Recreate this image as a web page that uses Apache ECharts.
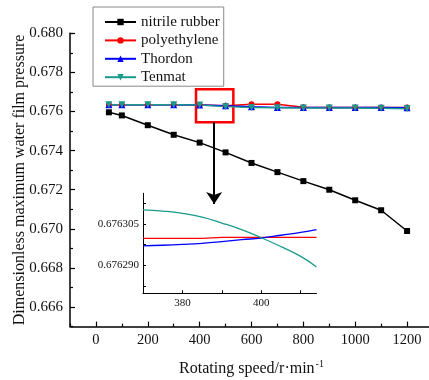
<!DOCTYPE html>
<html>
<head>
<meta charset="utf-8">
<script src="https://cdn.jsdelivr.net/npm/echarts@6/dist/echarts.min.js"></script>
<style>html,body{margin:0;padding:0;background:#fff}#c{width:429px;height:380px}</style>
</head>
<body>
<div id="c"></div>
<script>
// ---- main chart data ----
const speeds = [50, 100, 200, 300, 400, 500, 600, 700, 800, 900, 1000, 1100, 1200];
const nitrileRubber = [0.67596, 0.67580, 0.67530, 0.67481, 0.67441, 0.67391, 0.67337, 0.67290, 0.67244, 0.67200, 0.67146, 0.67095, 0.66989];
const polyethylene  = [0.67634, 0.67634, 0.67634, 0.67634, 0.67633, 0.67630, 0.67637, 0.67637, 0.67622, 0.67621, 0.67621, 0.67620, 0.67620];
const thordon       = [0.67634, 0.67634, 0.67634, 0.67634, 0.67633, 0.67630, 0.67624, 0.67621, 0.67620, 0.67620, 0.67620, 0.67620, 0.67619];
const tenmat        = [0.67634, 0.67634, 0.67634, 0.67634, 0.67633, 0.67625, 0.67620, 0.67619, 0.67618, 0.67618, 0.67618, 0.67617, 0.67614];
const seriesNames = ['nitrile rubber', 'polyethylene', 'Thordon', 'Tenmat'];
const xTickLabels = [0, 200, 400, 600, 800, 1000, 1200];
const yTickLabels = [0.666, 0.668, 0.670, 0.672, 0.674, 0.676, 0.678, 0.680];

// ---- inset (zoomed) data ----
const insetSpeeds = [370, 375, 380, 385, 390, 395, 400, 405, 410, 414];
const insetPolyethylene = [0.6762998, 0.6762998, 0.6762998, 0.6762998, 0.6763001, 0.6763001, 0.6763001, 0.6763001, 0.6763001, 0.6763001];
const insetThordon = [0.6762971, 0.6762973, 0.6762976, 0.6762980, 0.6762986, 0.6762993, 0.6762999, 0.6763009, 0.6763019, 0.6763029];
const insetTenmat  = [0.6763100, 0.6763096, 0.6763088, 0.6763074, 0.6763053, 0.6763029, 0.6763000, 0.6762968, 0.6762933, 0.6762895];
const insetXLabels = [380, 400];
const insetXTicks = [380, 390, 400, 410];
const insetYLabels = [0.676290, 0.676305];
const insetYTicks = [0.6762825, 0.676290, 0.6762975, 0.676305, 0.6763125];

// ---- annotation (zoom box and arrow) in data units ----
const zoomBoxX = [386, 530];
const zoomBoxY = [0.675448, 0.677136];
const arrowX = 456;
const arrowY = [0.675448, 0.671269];

const colors = ['#000000', '#FF0000', '#0000FF', '#1A9A8C'];
const pair = (xs, ys) => xs.map((x, i) => [x, ys[i]]);
const font = 'Liberation Serif';
const clear = 'rgba(0,0,0,0)';
const mainRect = {left: 70, top: 33.3, width: 363, height: 293.3, outerBoundsMode: 'none', containLabel: false};

const chart = echarts.init(document.getElementById('c'), null, {renderer: 'canvas'});
const option = {
  animation: false,
  textStyle: {fontFamily: font},
  legend: {
    data: seriesNames, orient: 'vertical', left: 93, top: 7,
    padding: [7, 4, 1, 11], itemGap: 2.4, itemWidth: 31, itemHeight: 8,
    borderColor: '#888', borderWidth: 1, backgroundColor: '#fff',
    textStyle: {fontFamily: font, fontSize: 15, lineHeight: 16, color: '#111'}
  },
  grid: [
    Object.assign({}, mainRect),
    {left: 143, top: 193.3, width: 173.5, height: 100, outerBoundsMode: 'none', containLabel: false},
    Object.assign({}, mainRect)   // same rect, carries the minor ticks only
  ],
  xAxis: [
    {type: 'value', gridIndex: 0, min: -100, max: 1300, position: 'bottom',
     name: 'Rotating speed/r·min{s|-1}', nameLocation: 'middle', nameGap: 33,
     nameTextStyle: {fontFamily: font, fontSize: 16, color: '#111',
       rich: {s: {fontFamily: font, fontSize: 10, verticalAlign: 'top', padding: [0,0,8,1], color: '#111'}}},
     axisLine: {onZero: false, lineStyle: {color: '#000', width: 1.5}},
     axisTick: {inside: true, length: 5, customValues: xTickLabels, lineStyle: {color: '#000', width: 1.2}},
     axisLabel: {customValues: xTickLabels, fontFamily: font, fontSize: 14.5, color: '#111', margin: 6,
       formatter: v => String(v)},
     splitLine: {show: false}},
    {type: 'value', gridIndex: 1, min: 370, max: 414, position: 'bottom',
     axisLine: {onZero: false, lineStyle: {color: '#000', width: 1}},
     axisTick: {inside: true, length: 3, customValues: insetXTicks, lineStyle: {color: '#000'}},
     axisLabel: {customValues: insetXLabels, fontFamily: font, fontSize: 11, color: '#111', margin: 4},
     splitLine: {show: false}},
    {type: 'value', gridIndex: 2, min: -100, max: 1300, interval: 200, position: 'bottom',
     axisLine: {show: true, onZero: false, lineStyle: {color: clear}},
     axisTick: {show: true, inside: true, length: 3, lineStyle: {color: '#000', width: 1.2}},
     axisLabel: {show: false}, splitLine: {show: false}}
  ],
  yAxis: [
    {type: 'value', gridIndex: 0, min: 0.665, max: 0.680, position: 'left',
     name: 'Dimensionless maximum water film pressure', nameLocation: 'middle', nameGap: 42,
     nameMoveOverlap: false,
     nameTextStyle: {fontFamily: font, fontSize: 16, color: '#111'},
     axisLine: {onZero: false, lineStyle: {color: '#000', width: 1.5}},
     axisTick: {inside: true, length: 5, customValues: yTickLabels, lineStyle: {color: '#000', width: 1.2}},
     axisLabel: {customValues: yTickLabels, fontFamily: font, fontSize: 15, color: '#111', margin: 7,
       formatter: v => v.toFixed(3)},
     splitLine: {show: false}},
    {type: 'value', gridIndex: 1, min: 0.67628, max: 0.676316, position: 'left',
     axisLine: {onZero: false, lineStyle: {color: '#000', width: 1}},
     axisTick: {inside: true, length: 3, customValues: insetYTicks, lineStyle: {color: '#000'}},
     axisLabel: {customValues: insetYLabels, fontFamily: font, fontSize: 11, color: '#111', margin: 4,
       formatter: v => v.toFixed(6)},
     splitLine: {show: false}},
    {type: 'value', gridIndex: 2, min: 0.665, max: 0.680, interval: 0.002, position: 'left',
     axisLine: {show: true, onZero: false, lineStyle: {color: clear}},
     axisTick: {show: true, inside: true, length: 3, lineStyle: {color: '#000', width: 1.2}},
     axisLabel: {show: false}, splitLine: {show: false}}
  ],
  series: [
    {name: seriesNames[0], type: 'line', xAxisIndex: 0, yAxisIndex: 0, data: pair(speeds, nitrileRubber),
     symbol: 'rect', symbolSize: 6, color: colors[0], lineStyle: {width: 1.5},
     markArea: {silent: true, itemStyle: {color: clear, borderColor: '#FF0000', borderWidth: 2.5},
       data: [[{coord: [zoomBoxX[0], zoomBoxY[1]]}, {coord: [zoomBoxX[1], zoomBoxY[0]]}]]},
     markLine: {silent: true, symbol: ['none', 'arrow'], symbolSize: 12, label: {show: false},
       lineStyle: {color: '#000', width: 2, type: 'solid'},
       data: [[{coord: [arrowX, arrowY[0]]}, {coord: [arrowX, arrowY[1]]}]]}},
    {name: seriesNames[1], type: 'line', xAxisIndex: 0, yAxisIndex: 0, data: pair(speeds, polyethylene),
     symbol: 'circle', symbolSize: 6, color: colors[1], lineStyle: {width: 1.5}},
    {name: seriesNames[2], type: 'line', xAxisIndex: 0, yAxisIndex: 0, data: pair(speeds, thordon),
     symbol: 'triangle', symbolSize: 7, color: colors[2], lineStyle: {width: 1.5}},
    {name: seriesNames[3], type: 'line', xAxisIndex: 0, yAxisIndex: 0, data: pair(speeds, tenmat),
     symbol: 'triangle', symbolRotate: 180, symbolSize: 7, color: colors[3], lineStyle: {width: 1.5}},
    {name: 'inset polyethylene', type: 'line', xAxisIndex: 1, yAxisIndex: 1, data: pair(insetSpeeds, insetPolyethylene),
     showSymbol: false, symbol: 'none', color: colors[1], lineStyle: {width: 1.3}},
    {name: 'inset Thordon', type: 'line', xAxisIndex: 1, yAxisIndex: 1, data: pair(insetSpeeds, insetThordon),
     smooth: true, showSymbol: false, symbol: 'none', color: colors[2], lineStyle: {width: 1.3}},
    {name: 'inset Tenmat', type: 'line', xAxisIndex: 1, yAxisIndex: 1, data: pair(insetSpeeds, insetTenmat),
     smooth: true, showSymbol: false, symbol: 'none', color: colors[3], lineStyle: {width: 1.3}}
  ]
};
chart.setOption(option);
</script>
</body>
</html>
